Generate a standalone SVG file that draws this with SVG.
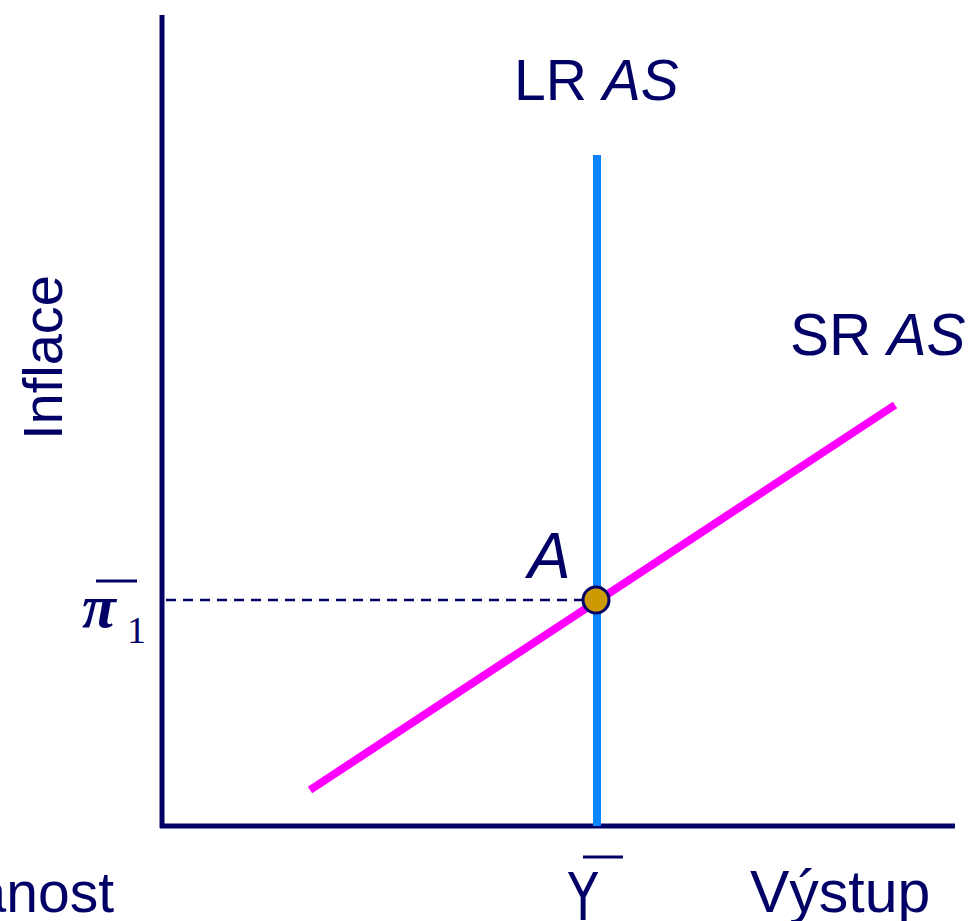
<svg xmlns="http://www.w3.org/2000/svg" width="970" height="921" viewBox="0 0 970 921">
<style>
.lbl{font-family:"Liberation Sans",Arial,sans-serif;font-size:57px;fill:#000066}
.it{font-style:italic}
.axis{stroke:#000066;stroke-width:5;fill:none}
</style>
<rect width="970" height="921" fill="#ffffff"/>
<g id="axes">
<line class="axis" x1="162" y1="15" x2="162" y2="828"/>
<line class="axis" x1="160" y1="826" x2="955" y2="826"/>
</g>
<g id="connectors">
<line x1="166" y1="600" x2="585" y2="600" stroke="#000066" stroke-width="2.5" stroke-dasharray="10,7"/>
</g>
<g id="lras">
<line x1="597" y1="155" x2="597" y2="826" stroke="#0A84FF" stroke-width="8"/>
<text class="lbl" x="514" y="100">LR <tspan class="it">AS</tspan></text>
</g>
<g id="sras">
<line x1="310" y1="790" x2="895" y2="405" stroke="#FF00FF" stroke-width="8"/>
<text class="lbl" x="790" y="355" style="font-size:58.5px">SR <tspan class="it">AS</tspan></text>
</g>
<g id="pointA">
<circle cx="596" cy="600" r="13" fill="#CC9900" stroke="#000066" stroke-width="3"/>
<text class="lbl it" x="528" y="578" style="font-size:64px">A</text>
</g>
<g id="ylabel">
<text class="lbl" transform="translate(62,440) rotate(-90)" style="font-size:56px">Inflace</text>
</g>
<g id="xlabel">
<text class="lbl" x="750" y="912" style="font-size:59px">Výstup</text>
<text class="lbl" x="114" y="912" text-anchor="end">anost</text>
</g>
<g id="pi1">
<text x="82" y="627" style="font-family:'Liberation Serif','Times New Roman',serif;font-style:italic;font-weight:bold;font-size:62px;fill:#000066">π</text>
<line x1="96" y1="581" x2="137" y2="581" stroke="#000066" stroke-width="3"/>
<text x="127" y="643" style="font-family:'Liberation Serif','Times New Roman',serif;font-size:38px;fill:#000066">1</text>
</g>
<g id="ybar">
<text transform="translate(568,920) scale(0.75,1)" style="font-family:'DejaVu Sans',sans-serif;font-size:66px;fill:#000066">Y</text>
<line x1="583" y1="857" x2="623" y2="857" stroke="#000066" stroke-width="3"/>
</g>
</svg>
